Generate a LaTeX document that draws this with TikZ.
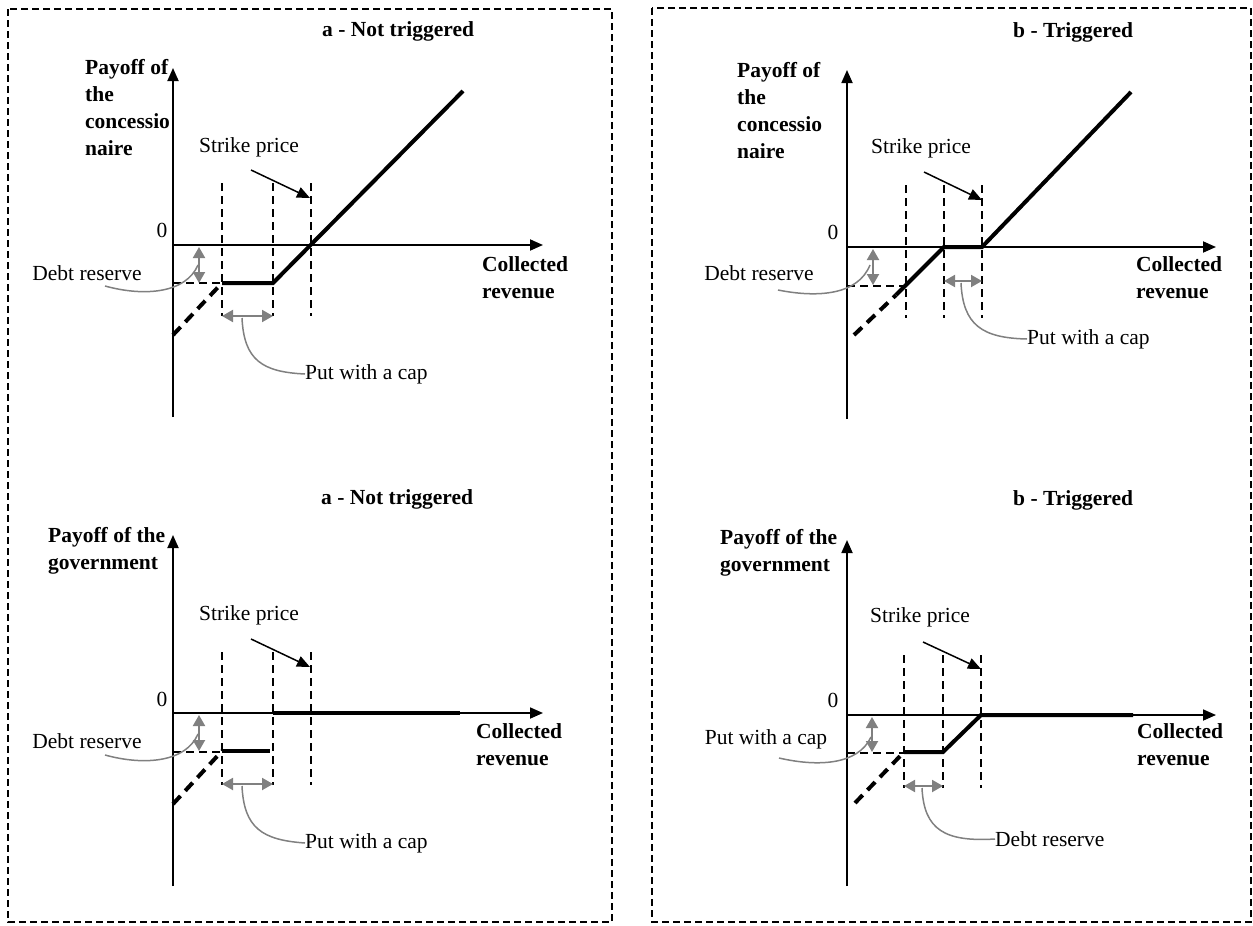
\documentclass[tikz,border=0pt]{standalone}
\usepackage{fontspec}
\setmainfont{Liberation Serif}
\usetikzlibrary{arrows.meta}

\begin{document}
\begin{tikzpicture}[x=1pt,y=-1pt,
    txt/.style={inner sep=0pt,font=\fontsize{21.5}{27}\selectfont},
    bold/.style={inner sep=0pt,font=\fontsize{21.5}{27}\selectfont\bfseries,align=left},
    panel/.style={line width=1.5pt,dash pattern=on 7pt off 4pt},
    axis/.style={line width=1.8pt,-{Triangle[length=13pt,width=11pt]}},
    guide/.style={line width=1.5pt,dash pattern=on 8pt off 5pt},
    payoff/.style={line width=4pt},
    payoffdash/.style={line width=4pt,dash pattern=on 11pt off 7pt},
    greyarrow/.style={gray,line width=2pt,{Triangle[length=11pt,width=12pt]}-{Triangle[length=11pt,width=12pt]}},
    callout/.style={gray,line width=1.5pt},
    pointer/.style={line width=1.5pt,-{Triangle[length=13pt,width=11pt]}}]

\useasboundingbox (0,0) rectangle (1253,926);
\draw[panel] (8,9) rectangle (612,922);
\draw[panel] (652,8) rectangle (1251,922);

% a - concessionaire
\node[bold,anchor=west] (titleA1) at (322,31) {a - Not triggered};
\node[bold,anchor=north west] (yA1) at (85,59) {Payoff of\\the\\concessio\\naire};
\node[bold,anchor=north west] (xA1) at (482,256) {Collected\\revenue};
\node[txt] (zeroA1) at (162,230) {0};
\node[txt] (strikeA1) at (249,147) {Strike price};
\node[txt] (debtA1) at (87,273) {Debt reserve};
\node[txt,anchor=west] (putA1) at (305,374) {Put with a cap};
\draw[axis] (173,417) -- (173,68);
\draw[axis] (173,245) -- (543,245);
\draw[guide] (222,183) -- (222,316);
\draw[guide] (273,183) -- (273,316);
\draw[guide] (311,183) -- (311,316);
\draw[guide] (173,283) -- (222,283);
\draw[payoffdash] (173,335) -- (222,283);
\draw[payoff] (222,283) -- (273,283) -- (463,91);
\draw[pointer] (251,170) -- (310,198);
\draw[greyarrow] (199,247) -- (199,283);
\draw[greyarrow] (222,316) -- (273,316);
\draw[callout] (105,286) .. controls (145,297) and (186,293) .. (198,265);
\draw[callout] (242,318) .. controls (244,360) and (262,372) .. (putA1.west);

% a - government
\node[bold,anchor=west] (titleA2) at (321,499) {a - Not triggered};
\node[bold,anchor=north west] (yA2) at (48,527) {Payoff of the\\government};
\node[bold,anchor=north west] (xA2) at (476,723) {Collected\\revenue};
\node[txt] (zeroA2) at (162,699) {0};
\node[txt] (strikeA2) at (249,615) {Strike price};
\node[txt] (debtA2) at (87,741) {Debt reserve};
\node[txt,anchor=west] (putA2) at (305,843) {Put with a cap};
\draw[axis] (173,886) -- (173,535);
\draw[axis] (173,713) -- (543,713);
\draw[guide] (222,652) -- (222,785);
\draw[guide] (273,652) -- (273,785);
\draw[guide] (311,652) -- (311,785);
\draw[guide] (173,752) -- (222,752);
\draw[payoffdash] (173,804) -- (222,751);
\draw[payoff] (222,751) -- (270,751);
\draw[payoff] (273,713) -- (460,713);
\draw[pointer] (251,639) -- (310,667);
\draw[greyarrow] (199,715) -- (199,751);
\draw[greyarrow] (222,784) -- (273,784);
\draw[callout] (105,755) .. controls (145,766) and (186,762) .. (198,734);
\draw[callout] (242,786) .. controls (244,828) and (262,840) .. (putA2.west);

% b - concessionaire
\node[bold,anchor=west] (titleB1) at (1013,32) {b - Triggered};
\node[bold,anchor=north west] (yB1) at (737,62) {Payoff of\\the\\concessio\\naire};
\node[bold,anchor=north west] (xB1) at (1136,256) {Collected\\revenue};
\node[txt] (zeroB1) at (833,232) {0};
\node[txt] (strikeB1) at (921,148) {Strike price};
\node[txt] (debtB1) at (759,273) {Debt reserve};
\node[txt,anchor=west] (putB1) at (1027,339) {Put with a cap};
\draw[axis] (847,419) -- (847,70);
\draw[axis] (847,247) -- (1216,247);
\draw[guide] (906,185) -- (906,318);
\draw[guide] (944,185) -- (944,318);
\draw[guide] (982,185) -- (982,318);
\draw[guide] (847,286) -- (904,286);
\draw[payoffdash] (854,335) -- (896,295);
\draw[payoff] (896,295) -- (944,247) -- (982,247) -- (1131,92);
\draw[pointer] (924,172) -- (982,200);
\draw[greyarrow] (873,249) -- (873,285);
\draw[greyarrow] (944,281) -- (982,281);
\draw[callout] (778,290) .. controls (818,298) and (858,295) .. (870,265);
\draw[callout] (961,283) .. controls (963,325) and (982,338) .. (putB1.west);

% b - government
\node[bold,anchor=west] (titleB2) at (1013,500) {b - Triggered};
\node[bold,anchor=north west] (yB2) at (720,529) {Payoff of the\\government};
\node[bold,anchor=north west] (xB2) at (1137,723) {Collected\\revenue};
\node[txt] (zeroB2) at (833,700) {0};
\node[txt] (strikeB2) at (920,617) {Strike price};
\node[txt] (putB2) at (766,739) {Put with a cap};
\node[txt,anchor=west] (debtB2) at (995,839) {Debt reserve};
\draw[axis] (847,886) -- (847,540);
\draw[axis] (847,715) -- (1216,715);
\draw[guide] (904,655) -- (904,788);
\draw[guide] (943,655) -- (943,788);
\draw[guide] (981,655) -- (981,788);
\draw[guide] (847,753) -- (904,753);
\draw[payoffdash] (855,803) -- (904,752);
\draw[payoff] (904,752) -- (943,752) -- (981,715) -- (1133,715);
\draw[pointer] (923,642) -- (981,669);
\draw[greyarrow] (872,717) -- (872,752);
\draw[greyarrow] (904,786) -- (943,786);
\draw[callout] (779,758) .. controls (818,767) and (858,765) .. (871,737);
\draw[callout] (922,788) .. controls (924,830) and (945,842) .. (debtB2.west);
\end{tikzpicture}
\end{document}
